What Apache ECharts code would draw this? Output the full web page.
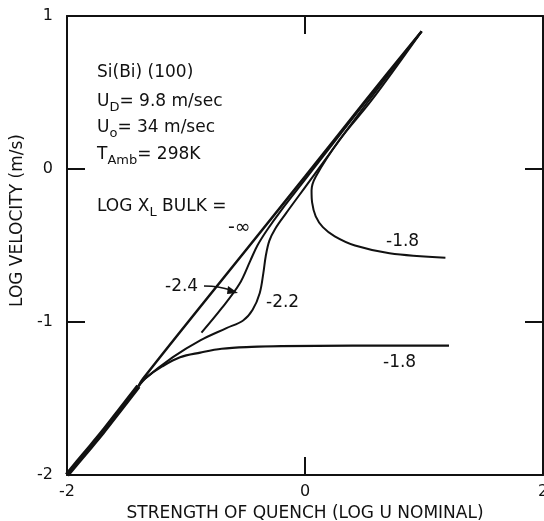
<!DOCTYPE html>
<html>
<head>
<meta charset="utf-8">
<script src="https://cdn.jsdelivr.net/npm/echarts@6/dist/echarts.min.js"></script>
<style>
  html, body { margin: 0; padding: 0; background: #fff; }
  #chart { width: 544px; height: 521px; }
</style>
</head>
<body>
<div id="chart"></div>
<script>
// tick values and labels
var xTicks = [-2, 0, 2];
var xTickLabels = ['-2', '0', '2'];
var yTicks = [-2, -1, 0, 1];
var yTickLabels = ['-2', '-1', '0', '1'];

// common thick start of all curves
var base = [[-2, -2], [-1.85, -1.86], [-1.7, -1.72], [-1.55, -1.57], [-1.4, -1.42]];

// log X_L bulk = -infinity
var curveInf = [[-1.4, -1.42], [-1.36, -1.37], [-0.9, -0.92], [0, -0.05], [0.5, 0.44], [0.98, 0.9]];

// -2.4
var curve24 = [[-0.87, -1.07], [-0.7, -0.91], [-0.55, -0.75], [-0.46, -0.6], [-0.4, -0.5],
  [-0.32, -0.4], [-0.2, -0.27], [0, -0.07], [0.5, 0.43], [0.98, 0.9]];

// -2.2
var curve22 = [[-1.4, -1.42], [-1.36, -1.38], [-1.11, -1.23], [-0.88, -1.12], [-0.66, -1.04],
  [-0.52, -0.99], [-0.44, -0.92], [-0.38, -0.81], [-0.35, -0.68], [-0.33, -0.57],
  [-0.3, -0.47], [-0.25, -0.39], [-0.16, -0.29], [0, -0.12], [0.5, 0.41], [0.98, 0.9]];

// -1.8 upper branch
var curve18a = [[0.98, 0.9], [0.56, 0.45], [0.29, 0.19], [0.09, -0.05], [0.055, -0.14],
  [0.06, -0.22], [0.09, -0.31], [0.15, -0.38], [0.25, -0.44], [0.42, -0.5],
  [0.71, -0.55], [1.18, -0.58]];

// -1.8 lower branch
var curve18b = [[-1.4, -1.42], [-1.33, -1.36], [-1.2, -1.29], [-1.05, -1.23], [-0.88, -1.2],
  [-0.7, -1.175], [-0.45, -1.163], [-0.2, -1.158], [0.4, -1.155], [1.21, -1.155]];

var ink = '#111';
var font = 'DejaVu Sans';

function curve(data, width) {
  return {
    type: 'line',
    data: data,
    showSymbol: false,
    smooth: 0.35,
    lineStyle: { color: ink, width: width },
    silent: true
  };
}

var chart = echarts.init(document.getElementById('chart'));

var txt = {
  n: { fontSize: 17, fontFamily: font, color: ink },
  s: { fontSize: 13, fontFamily: font, color: ink, padding: [12, 0, 0, 0] }
};

function label(x, y, text, size) {
  return {
    type: 'text', x: x, y: y,
    style: {
      text: text, rich: txt, fill: ink,
      font: (size || 17) + 'px "' + font + '"',
      align: 'left', verticalAlign: 'middle'
    }
  };
}

function frameAxis(extra) {
  return Object.assign({
    type: 'value',
    axisLine: { onZero: false, lineStyle: { color: ink, width: 2 } },
    axisTick: { inside: true, length: 18, lineStyle: { color: ink, width: 2 } },
    axisLabel: { show: false },
    splitLine: { show: false }
  }, extra);
}

var option = {
  animation: false,
  backgroundColor: '#fff',
  grid: { left: 67, right: 1, top: 16, bottom: 46, containLabel: false, outerBoundsMode: 'none' },
  xAxis: [
    frameAxis({
      min: -2, max: 2, interval: 2, position: 'bottom',
      axisLabel: {
        color: ink, fontSize: 16, fontFamily: font, margin: 9,
        formatter: function (v) { return xTickLabels[xTicks.indexOf(v)]; }
      },
      name: 'STRENGTH OF QUENCH (LOG U NOMINAL)',
      nameLocation: 'middle', nameGap: 27,
      nameTextStyle: { color: ink, fontSize: 17, fontFamily: font }
    }),
    frameAxis({ min: -2, max: 2, interval: 2, position: 'top' })
  ],
  yAxis: [
    frameAxis({
      min: -2, max: 1, interval: 1, position: 'left',
      axisLabel: {
        color: ink, fontSize: 16, fontFamily: font, margin: 14,
        formatter: function (v) { return yTickLabels[yTicks.indexOf(v)]; }
      },
      name: 'LOG VELOCITY (m/s)',
      nameLocation: 'middle', nameGap: 41, nameRotate: 90,
      nameTextStyle: { color: ink, fontSize: 17, fontFamily: font, padding: [0, 0, 0, 50] }
    }),
    frameAxis({ min: -2, max: 1, interval: 1, position: 'right' })
  ],
  graphic: [
    label(97, 73, '{n|Si(Bi) (100)}'),
    label(97, 102, '{n|U}{s|D}{n|= 9.8 m/sec}'),
    label(97, 128, '{n|U}{s|o}{n|= 34 m/sec}'),
    label(97, 155, '{n|T}{s|Amb}{n|= 298K}'),
    label(97, 207, '{n|LOG X}{s|L}{n| BULK =}'),
    label(228, 228, '-∞', 19),
    label(165, 287, '-2.4'),
    label(266, 303, '-2.2'),
    label(386, 242, '-1.8'),
    label(383, 363, '-1.8'),
    {
      type: 'polyline',
      shape: { points: [[204, 286], [218, 287], [231, 290]], smooth: 0.4 },
      style: { stroke: ink, lineWidth: 1.5, fill: null }
    },
    {
      type: 'polygon',
      shape: { points: [[238, 293], [228, 286], [227, 294]] },
      style: { fill: ink }
    }
  ],
  series: [
    curve(base, 5),
    curve(curveInf, 2.5),
    curve(curve24, 2),
    curve(curve22, 2),
    curve(curve18a, 2),
    curve(curve18b, 2.2)
  ]
};

chart.setOption(option);
</script>
</body>
</html>
